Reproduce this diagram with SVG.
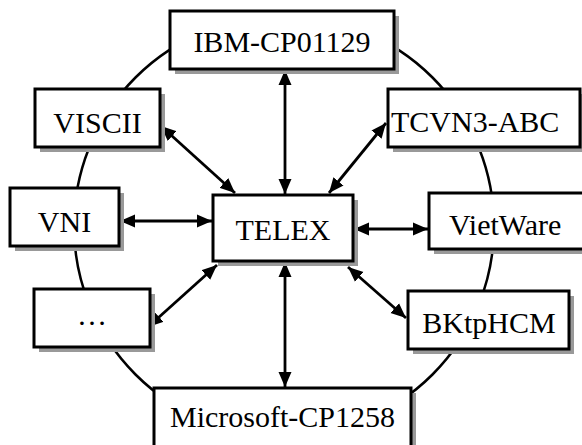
<svg xmlns="http://www.w3.org/2000/svg" width="582" height="445" viewBox="0 0 582 445">
<style>
.box{fill:#fff;stroke:#000;stroke-width:3}
.sh{fill:#999}
.ln{stroke:#000;stroke-width:2.8;fill:none}
</style>
<defs>
<marker id="ah" markerUnits="userSpaceOnUse" markerWidth="16" markerHeight="14" refX="15" refY="7" orient="auto-start-reverse">
<path d="M0,0.5 L15,7 L0,13.5 z" fill="#000"/>
</marker>
</defs>
<rect width="582" height="445" fill="#fff"/>
<circle cx="284" cy="226" r="210" fill="none" stroke="#000" stroke-width="2.5"/>
<g id="connectors" marker-start="url(#ah)" marker-end="url(#ah)">
<line class="ln" x1="285" y1="70" x2="285" y2="194" marker-start="url(#ah)" marker-end="url(#ah)"/>
<line class="ln" x1="161" y1="126" x2="235" y2="193" marker-start="url(#ah)" marker-end="url(#ah)"/>
<line class="ln" x1="386" y1="123" x2="329" y2="193" marker-start="url(#ah)" marker-end="url(#ah)"/>
<line class="ln" x1="120" y1="221" x2="212" y2="221" marker-start="url(#ah)" marker-end="url(#ah)"/>
<line class="ln" x1="354" y1="229" x2="428" y2="229" marker-start="url(#ah)" marker-end="url(#ah)"/>
<line class="ln" x1="148" y1="327" x2="217" y2="265" marker-start="url(#ah)" marker-end="url(#ah)"/>
<line class="ln" x1="348" y1="267" x2="406" y2="318" marker-start="url(#ah)" marker-end="url(#ah)"/>
<line class="ln" x1="285" y1="262" x2="285" y2="387" marker-start="url(#ah)" marker-end="url(#ah)"/>
</g>
<g font-family="Liberation Serif, serif" font-size="30" fill="#000">
<g id="ibm"><rect class="sh" x="175" y="16" width="224" height="58"/><rect class="box" x="170" y="11" width="224" height="58"/><text x="282" y="52" text-anchor="middle">IBM-CP01129</text></g>
<g id="viscii"><rect class="sh" x="40" y="94" width="125" height="58"/><rect class="box" x="35" y="89" width="125" height="58"/><text x="97.5" y="133" text-anchor="middle">VISCII</text></g>
<g id="tcvn3"><rect class="sh" x="393" y="94" width="192" height="58"/><rect class="box" x="388" y="89" width="192" height="58"/><text x="391" y="132">TCVN3-ABC</text></g>
<g id="vni"><rect class="sh" x="15" y="193" width="109" height="58"/><rect class="box" x="10" y="188" width="109" height="58"/><text x="64.5" y="232" text-anchor="middle">VNI</text></g>
<g id="telex"><rect class="sh" x="218" y="200" width="140" height="66"/><rect class="box" x="213" y="195" width="140" height="66"/><text x="283" y="240" text-anchor="middle">TELEX</text></g>
<g id="vietware"><rect class="sh" x="434" y="198" width="160" height="56"/><rect class="box" x="429" y="193" width="160" height="56"/><text x="449" y="235">VietWare</text></g>
<g id="etc"><rect class="sh" x="39" y="294" width="116" height="58"/><rect class="box" x="34" y="289" width="116" height="58"/><text x="92" y="325" text-anchor="middle">…</text></g>
<g id="bktphcm"><rect class="sh" x="413" y="296" width="161" height="58"/><rect class="box" x="408" y="291" width="161" height="58"/><text x="489" y="333" text-anchor="middle">BKtpHCM</text></g>
<g id="microsoft"><rect class="sh" x="159" y="393" width="257" height="60"/><rect class="box" x="154" y="388" width="257" height="62"/><text x="282.5" y="427" text-anchor="middle">Microsoft-CP1258</text></g>
</g>
</svg>
